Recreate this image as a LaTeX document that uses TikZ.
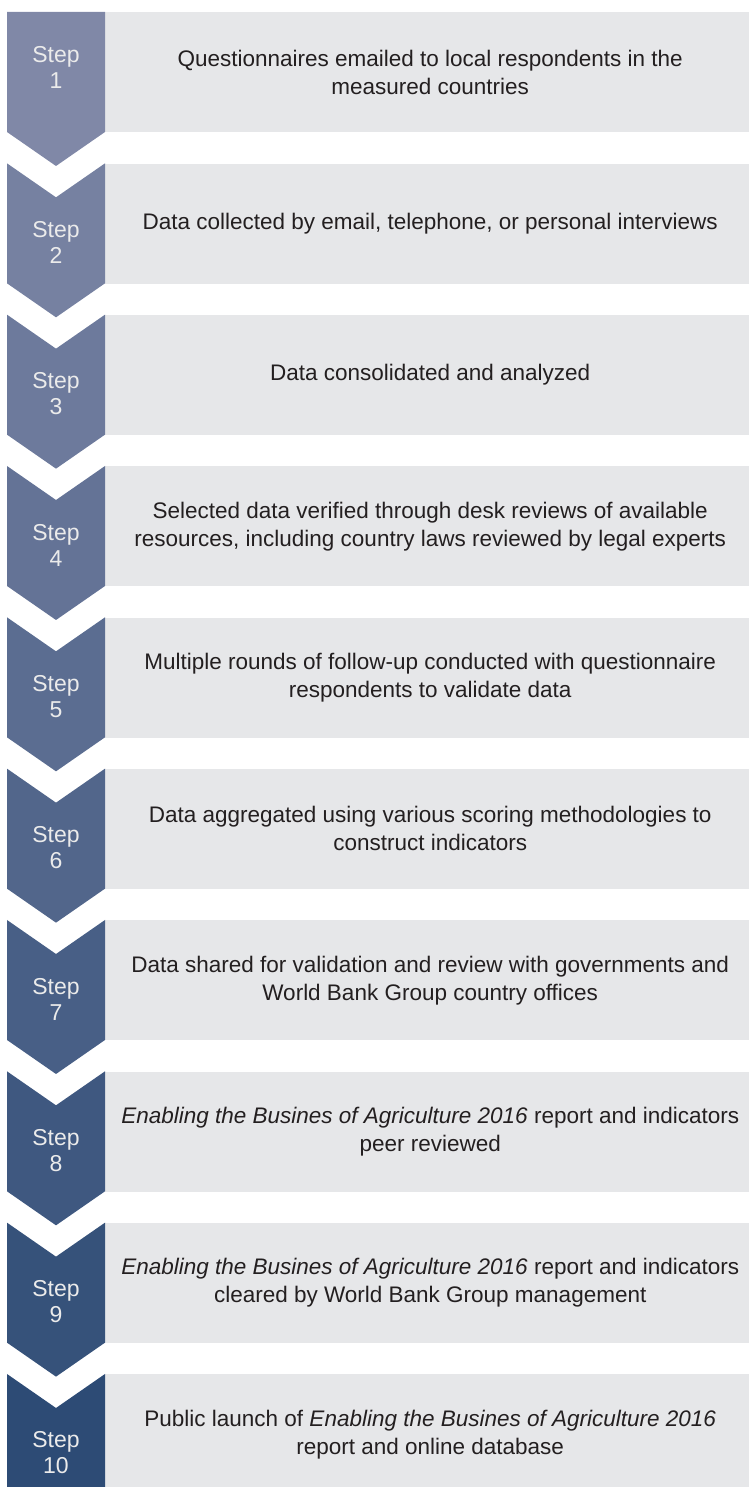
\documentclass[tikz,border=0pt]{standalone}
\usepackage{fontspec}
\setmainfont{Liberation Sans}
\usepackage{xcolor}
\definecolor{stepfirst}{HTML}{8088A7}
\definecolor{steplast}{HTML}{2D4B75}
\definecolor{boxgrey}{HTML}{E6E7E9}
\definecolor{textdark}{HTML}{231F20}
\tikzset{
  stepbox/.style={fill=boxgrey,draw=none,inner sep=0pt,anchor=north west,minimum width=644pt,minimum height=120pt},
  steplabel/.style={text=white!92!black,align=center,font=\fontsize{23}{26}\selectfont},
  stepdesc/.style={text=textdark,align=center,font=\fontsize{22.5}{28}\selectfont},
}

\begin{document}
\begin{tikzpicture}[x=1pt,y=-1pt]
\clip (0,0) rectangle (749,1487);
% chevrons and grey boxes
\foreach \i in {1,...,10} {
  \pgfmathsetmacro{\ytop}{12+(\i-1)*151.33}
  \pgfmathtruncatemacro{\mixval}{100-(\i-1)*100/9}
  \node[stepbox] (box\i) at (105,\ytop) {};
  \ifnum\i=1
    \fill[stepfirst!\mixval!steplast] (7,\ytop) -- (105,\ytop) -- (105,\ytop+120) -- (56,\ytop+154) -- (7,\ytop+120) -- cycle;
    \node[steplabel] (lab\i) at (56,\ytop+55) {Step\\\i};
  \else
    \fill[stepfirst!\mixval!steplast] (7,\ytop) -- (56,\ytop+34) -- (105,\ytop) -- (105,\ytop+120) -- (56,\ytop+154) -- (7,\ytop+120) -- cycle;
    \node[steplabel] (lab\i) at (56,\ytop+79) {Step\\\i};
  \fi
}
% step texts
\node[stepdesc] (desc1) at ([xshift=3pt]box1.center) {Questionnaires emailed to local respondents in the\\measured countries};
\node[stepdesc] (desc2) at ([xshift=3pt]box2.center) {Data collected by email, telephone, or personal interviews};
\node[stepdesc] (desc3) at ([xshift=3pt]box3.center) {Data consolidated and analyzed};
\node[stepdesc] (desc4) at ([xshift=3pt]box4.center) {Selected data verified through desk reviews of available\\resources, including country laws reviewed by legal experts};
\node[stepdesc] (desc5) at ([xshift=3pt]box5.center) {Multiple rounds of follow-up conducted with questionnaire\\respondents to validate data};
\node[stepdesc] (desc6) at ([xshift=3pt]box6.center) {Data aggregated using various scoring methodologies to\\construct indicators};
\node[stepdesc] (desc7) at ([xshift=3pt]box7.center) {Data shared for validation and review with governments and\\World Bank Group country offices};
\node[stepdesc] (desc8) at ([xshift=3pt]box8.center) {\textit{Enabling the Busines of Agriculture 2016} report and indicators\\peer reviewed};
\node[stepdesc] (desc9) at ([xshift=3pt]box9.center) {\textit{Enabling the Busines of Agriculture 2016} report and indicators\\cleared by World Bank Group management};
\node[stepdesc] (desc10) at ([xshift=3pt]box10.center) {Public launch of \textit{Enabling the Busines of Agriculture 2016}\\report and online database};
\end{tikzpicture}
\end{document}
